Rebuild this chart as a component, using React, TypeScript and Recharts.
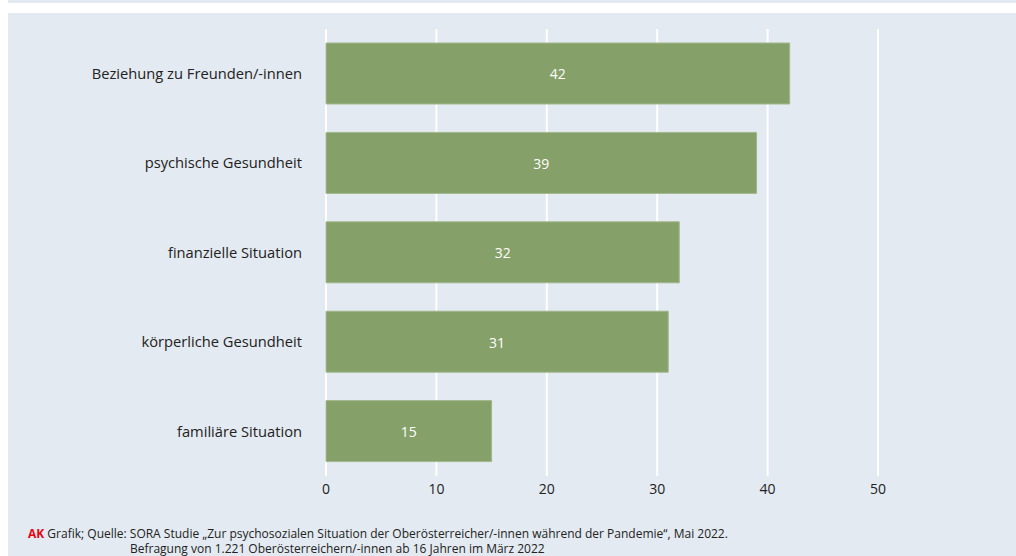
import { BarChart, Bar, XAxis, YAxis, CartesianGrid, LabelList } from 'recharts';

// Sorgen seit der Pandemie – Anteil in Prozent
const categories = [
  'Beziehung zu Freunden/-innen',
  'psychische Gesundheit',
  'finanzielle Situation',
  'körperliche Gesundheit',
  'familiäre Situation',
];
const values = [42, 39, 32, 31, 15];
const xTicks = [0, 10, 20, 30, 40, 50];

const data = categories.map((name, i) => ({ name, value: values[i] }));

const FONT = '"Open Sans", "Noto Sans", sans-serif';
const PANEL = '#e3eaf1';

export default function App() {
  return (
    <div
      style={{
        position: 'absolute',
        left: 0,
        top: 0,
        width: 1016,
        height: 556,
        background: '#ffffff',
        fontFamily: FONT,
        overflow: 'hidden',
      }}
    >
      <div style={{ position: 'absolute', left: 8, top: 0, width: 1008, height: 3, background: PANEL }} />
      <div style={{ position: 'absolute', left: 8, top: 13, width: 1008, height: 543, background: PANEL }}>
        <BarChart
          width={1008}
          height={543}
          data={data}
          layout="vertical"
          margin={{ top: 16, right: 138, left: 0, bottom: 50 }}
          barSize={61}
        >
          <CartesianGrid horizontal={false} stroke="#ffffff" strokeWidth={2} />
          <XAxis
            type="number"
            domain={[0, 50]}
            ticks={xTicks}
            axisLine={false}
            tickLine={false}
            tickSize={0}
            tickMargin={8}
            height={30}
            tick={{ fill: '#222222', fontSize: 14, fontFamily: FONT }}
          />
          <YAxis
            type="category"
            dataKey="name"
            width={318}
            axisLine={false}
            tickLine={false}
            tickSize={0}
            tickMargin={24}
            tick={{ fill: '#222222', fontSize: 14.7, fontFamily: FONT }}
          />
          <Bar dataKey="value" fill="#85a068" stroke="#a3b78e" strokeWidth={1} isAnimationActive={false}>
            <LabelList dataKey="value" position="center" fill="#ffffff" fontSize={14} fontFamily={FONT} dy={1} />
          </Bar>
        </BarChart>
      </div>
      <div
        style={{
          position: 'absolute',
          left: 28,
          top: 526,
          fontSize: 12,
          lineHeight: '15px',
          color: '#222222',
          whiteSpace: 'nowrap',
        }}
      >
        <div>
          <span style={{ color: '#e30613', fontWeight: 700 }}>AK</span> Grafik; Quelle: SORA Studie „Zur
          psychosozialen Situation der Oberösterreicher/-innen während der Pandemie“, Mai 2022.
        </div>
        <div style={{ paddingLeft: 102 }}>Befragung von 1.221 Oberösterreichern/-innen ab 16 Jahren im März 2022</div>
      </div>
    </div>
  );
}
